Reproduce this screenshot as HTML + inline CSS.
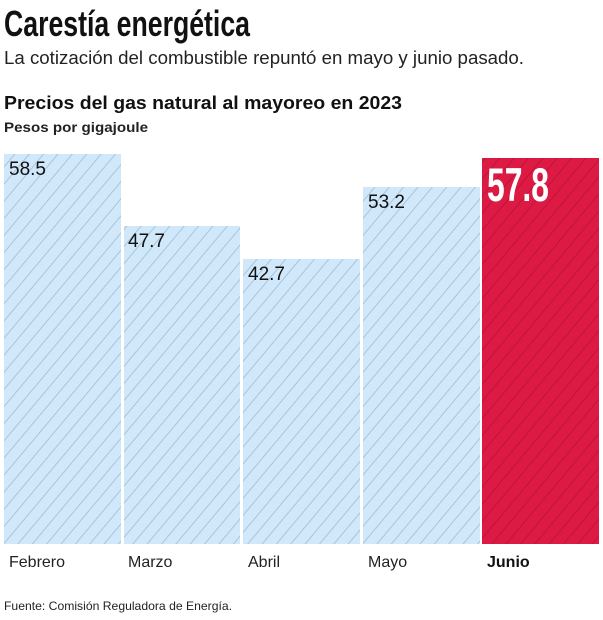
<!DOCTYPE html>
<html><head><meta charset="utf-8"><style>
body{margin:0;background:#fff;width:603px;height:620px;overflow:hidden}
svg{display:block}
</style></head><body>
<svg width="603" height="620" xmlns="http://www.w3.org/2000/svg" font-family="Liberation Sans, sans-serif">
<defs>
<pattern id="hb" patternUnits="userSpaceOnUse" width="11" height="11" patternTransform="rotate(-50)">
<rect width="11" height="11" fill="#d0e8fa"/><line x1="0" y1="0" x2="11" y2="0" stroke="#9fbcd3" stroke-width="1.6"/></pattern>
<pattern id="hr" patternUnits="userSpaceOnUse" width="11" height="11" patternTransform="rotate(-50)">
<rect width="11" height="11" fill="#dc1a43"/><line x1="0" y1="0" x2="11" y2="0" stroke="#b8123a" stroke-width="1.6"/></pattern>
</defs>
<text x="4" y="36" font-size="36" font-weight="bold" fill="#111" textLength="246" lengthAdjust="spacingAndGlyphs">Carestía energética</text>
<text x="4" y="64" font-size="18" fill="#222" textLength="520" lengthAdjust="spacingAndGlyphs">La cotización del combustible repuntó en mayo y junio pasado.</text>
<text x="4" y="109" font-size="18" font-weight="bold" fill="#111" textLength="398" lengthAdjust="spacingAndGlyphs">Precios del gas natural al mayoreo en 2023</text>
<text x="4" y="132" font-size="14" font-weight="bold" fill="#222" textLength="144" lengthAdjust="spacingAndGlyphs">Pesos por gigajoule</text>
<rect x="4" y="154" width="117" height="390" fill="url(#hb)"/>
<rect x="124" y="226" width="116" height="318" fill="url(#hb)"/>
<rect x="243" y="259" width="117" height="285" fill="url(#hb)"/>
<rect x="363" y="187" width="117" height="357" fill="url(#hb)"/>
<rect x="482" y="158" width="117" height="386" fill="url(#hr)"/>
<g font-size="19" fill="#111">
<text x="9" y="175">58.5</text>
<text x="128" y="247">47.7</text>
<text x="248" y="280">42.7</text>
<text x="368" y="208">53.2</text>
</g>
<text x="487" y="201" font-size="47" font-weight="bold" fill="#fff" textLength="62" lengthAdjust="spacingAndGlyphs">57.8</text>
<g font-size="16" fill="#222">
<text x="9" y="567">Febrero</text>
<text x="128" y="567">Marzo</text>
<text x="248" y="567">Abril</text>
<text x="368" y="567">Mayo</text>
<text x="487" y="567" font-weight="bold" fill="#111">Junio</text>
</g>
<text x="4" y="610" font-size="12" fill="#222" textLength="228" lengthAdjust="spacingAndGlyphs">Fuente: Comisión Reguladora de Energía.</text>
</svg>
</body></html>
